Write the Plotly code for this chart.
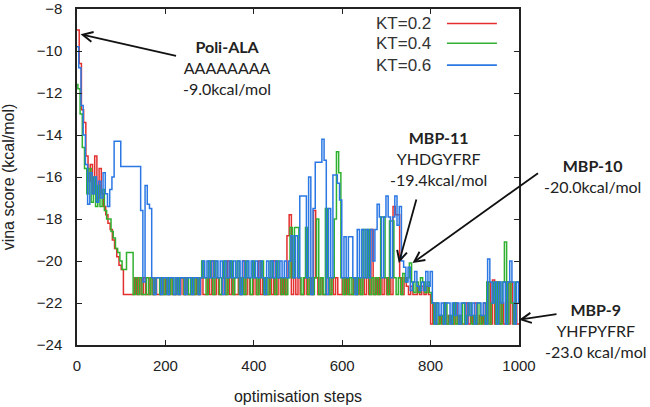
import plotly.graph_objects as go

# optimisation steps at which each run was sampled
steps_kt02 = list(range(0, 1001, 5))
steps_kt04 = [0] + list(range(2, 1000, 5)) + [1000]
steps_kt06 = [0] + list(range(4, 1000, 5)) + [1000]

# vina score (kcal/mol), KT=0.2
kt02 = [
    -9.0, -10.6, -12.8, -13.4, -15.0, -16.2, -15.4, -16.8, -15.0, -17.0,
    -15.6, -16.8, -17.4, -17.8, -18.2, -18.5, -19.0, -19.4, -19.8, -20.2,
    -20.4, -21.6, -21.6, -21.6, -21.6, -21.6, -20.8, -21.6, -20.8, -21.6,
    -20.8, -21.6, -21.6, -20.8, -21.6, -20.8, -21.6, -21.6, -20.8, -21.6,
    -20.8, -21.6, -20.8, -21.6, -21.6, -20.8, -21.6, -20.8, -21.6, -20.8,
    -21.6, -21.6, -20.8, -21.6, -20.8, -21.6, -20.8, -21.6, -21.6, -20.8,
    -21.6, -20.0, -21.6, -20.8, -21.6, -21.6, -20.8, -21.6, -20.0, -21.6,
    -20.8, -21.6, -21.6, -20.8, -21.6, -20.0, -21.6, -20.8, -21.6, -21.6,
    -20.8, -21.6, -20.0, -21.6, -20.8, -21.6, -21.6, -20.8, -21.6, -20.0,
    -21.6, -20.8, -21.6, -20.8, -21.6, -18.8, -17.8, -21.6, -20.8, -21.6,
    -20.8, -21.6, -21.6, -20.8, -21.6, -20.8, -21.6, -17.6, -20.8, -21.6,
    -20.8, -21.6, -21.6, -20.8, -21.6, -20.8, -21.6, -20.8, -21.6, -21.6,
    -20.8, -21.6, -20.8, -21.6, -21.6, -20.8, -21.6, -20.8, -21.6, -20.8,
    -21.6, -20.8, -21.6, -18.5, -21.6, -20.8, -21.6, -20.8, -21.6, -20.8,
    -21.6, -20.8, -21.6, -17.4, -17.8, -17.8, -20.8, -21.6, -20.8, -21.2,
    -21.6, -21.2, -21.6, -21.6, -21.2, -21.6, -21.2, -21.6, -21.2, -21.6,
    -23.0, -22.0, -23.0, -23.0, -22.6, -23.0, -22.0, -23.0, -22.6, -23.0,
    -23.0, -22.0, -23.0, -22.6, -23.0, -23.0, -22.0, -23.0, -22.6, -23.0,
    -22.0, -23.0, -22.6, -23.0, -22.0, -23.0, -21.0, -23.0, -20.9, -23.0,
    -21.0, -23.0, -22.0, -23.0, -21.0, -23.0, -21.0, -23.0, -22.0, -23.0,
    -23.0,
]

# vina score (kcal/mol), KT=0.4
kt04 = [
    -11.6,
    -11.8, -13.0, -14.6, -15.6, -16.8, -15.6, -17.2, -16.0, -17.4, -16.4,
    -17.4, -16.6, -17.6, -18.0, -18.0, -18.6, -18.9, -19.4, -19.6, -20.0,
    -20.4, -20.4, -19.6, -19.6, -19.6, -21.6, -20.8, -21.6, -20.8, -21.6,
    -21.6, -20.8, -21.6, -20.8, -21.6, -20.8, -20.8, -21.6, -20.8, -21.6,
    -20.8, -21.6, -20.8, -21.6, -20.8, -21.6, -20.8, -20.8, -21.6, -20.8,
    -21.6, -20.8, -21.6, -20.8, -21.6, -20.8, -20.0, -20.8, -21.6, -20.0,
    -20.8, -21.6, -20.0, -20.8, -21.6, -20.8, -20.0, -21.6, -20.8, -20.0,
    -21.6, -20.8, -20.0, -21.6, -20.8, -21.6, -20.0, -20.8, -21.6, -20.0,
    -20.8, -21.6, -20.8, -20.0, -21.6, -20.8, -21.6, -20.0, -20.8, -21.6,
    -20.0, -20.8, -21.6, -20.8, -21.6, -20.8, -18.4, -20.8, -18.4, -18.4,
    -20.8, -21.6, -20.8, -18.4, -21.6, -20.8, -21.6, -20.8, -18.0, -21.6,
    -20.8, -21.6, -17.5, -20.8, -21.6, -20.8, -18.0, -14.8, -15.8, -20.8,
    -21.6, -20.8, -21.6, -20.8, -21.6, -20.8, -21.6, -20.8, -21.6, -18.5,
    -20.8, -18.5, -21.6, -20.8, -21.6, -20.8, -21.6, -17.9, -17.9, -20.8,
    -21.6, -18.1, -18.1, -20.8, -21.6, -20.8, -21.6, -20.6, -21.0, -20.8,
    -20.1, -21.0, -21.5, -21.0, -21.5, -20.8, -21.0, -21.5, -21.0, -21.5,
    -22.0, -23.0, -22.0, -23.0, -22.6, -23.0, -22.0, -23.0, -22.6, -23.0,
    -22.0, -23.0, -22.6, -23.0, -22.0, -23.0, -22.6, -22.0, -23.0, -22.6,
    -23.0, -22.0, -23.0, -22.6, -23.0, -21.0, -23.0, -22.0, -21.0, -23.0,
    -21.0, -23.0, -21.0, -19.1, -23.0, -21.0, -22.0, -23.0, -21.0, -21.0,
    -21.0,
]

# vina score (kcal/mol), KT=0.6
kt06 = [
    -9.8,
    -10.8, -12.6, -14.0, -15.4, -17.3, -15.8, -16.8, -16.0, -17.2, -16.2,
    -17.0, -15.8, -16.8, -17.4, -16.6, -16.0, -14.3, -14.3, -14.3, -15.5,
    -15.5, -15.5, -15.5, -15.5, -15.5, -15.5, -15.5, -15.5, -17.6, -21.0,
    -16.4, -17.3, -17.5, -20.8, -21.6, -20.8, -20.8, -21.6, -20.8, -20.8,
    -21.6, -20.8, -20.8, -21.6, -20.8, -21.6, -20.8, -20.8, -21.6, -20.8,
    -20.8, -21.6, -20.8, -20.8, -21.6, -20.8, -20.0, -20.8, -20.0, -20.8,
    -20.0, -20.8, -20.0, -20.8, -20.0, -21.6, -20.0, -20.8, -20.0, -20.8,
    -20.0, -20.8, -20.0, -21.6, -20.0, -20.8, -20.0, -20.8, -20.0, -20.8,
    -20.0, -20.8, -20.0, -20.8, -21.6, -20.0, -20.8, -20.0, -20.8, -20.0,
    -20.8, -20.0, -20.8, -20.0, -20.8, -20.0, -18.8, -20.8, -18.8, -20.8,
    -16.9, -16.9, -16.9, -20.8, -16.0, -21.6, -17.5, -15.3, -15.3, -15.3,
    -14.2, -15.2, -21.6, -17.5, -20.8, -15.9, -15.9, -16.3, -17.1, -20.8,
    -18.85, -20.8, -18.85, -18.85, -20.8, -21.6, -18.5, -20.8, -18.5, -20.8,
    -18.5, -20.8, -18.5, -20.0, -18.5, -17.3, -17.9, -20.8, -17.9, -16.9,
    -17.9, -20.8, -17.9, -16.9, -18.3, -17.4, -20.0, -20.3, -21.0, -20.3,
    -21.4, -21.0, -20.5, -21.2, -21.4, -21.0, -21.4, -20.5, -21.2, -20.5,
    -22.0, -23.0, -22.0, -22.6, -22.0, -23.0, -22.0, -22.0, -23.0, -22.0,
    -22.6, -22.0, -23.0, -22.0, -22.0, -23.0, -22.0, -22.6, -22.0, -23.0,
    -22.0, -22.0, -22.6, -22.0, -23.0, -19.9, -21.0, -22.0, -21.0, -23.0,
    -21.0, -22.0, -21.0, -23.0, -21.0, -20.0, -21.0, -23.0, -21.0, -22.0,
    -21.0,
]

series_names = ["KT=0.2", "KT=0.4", "KT=0.6"]
series_colors = ["#e3302f", "#2fb12f", "#2b78e4"]
x_ticks = [0, 200, 400, 600, 800, 1000]
y_ticks = [-8, -10, -12, -14, -16, -18, -20, -22, -24]

fig = go.Figure()
for name, xs, vals, col in zip(series_names, [steps_kt02, steps_kt04, steps_kt06],
                               [kt02, kt04, kt06], series_colors):
    fig.add_trace(go.Scatter(
        x=xs, y=vals, name=name, mode="lines",
        line=dict(color=col, width=1.5, shape="hv"),
        showlegend=False, hoverinfo="skip",
    ))

sans = "Liberation Sans, Arial, sans-serif"
tickfont = dict(family=sans, size=15, color="#222")
fig.update_layout(
    width=650, height=407,
    margin=dict(l=77, r=131, t=9, b=62),
    paper_bgcolor="white", plot_bgcolor="white",
    xaxis=dict(
        range=[0, 1000], tickvals=x_ticks, ticks="inside", ticklen=5,
        tickwidth=1.2, tickcolor="#222", showline=True, linecolor="#222",
        linewidth=1.5, mirror="ticks", showgrid=False, zeroline=False,
        automargin=False, tickfont=tickfont, ticklabelstandoff=6,
        title=dict(text="optimisation steps", standoff=18,
                   font=dict(family=sans, size=16, color="#222")),
    ),
    yaxis=dict(
        range=[-24, -8], tickvals=y_ticks, ticks="inside", ticklen=5,
        tickwidth=1.2, tickcolor="#222", showline=True, linecolor="#222",
        linewidth=1.5, mirror="ticks", showgrid=False, zeroline=False,
        automargin=False, tickfont=tickfont, ticklabelstandoff=10,
        title=dict(text="vina score (kcal/mol)", standoff=18,
                   font=dict(family=sans, size=16, color="#222")),
    ),
)

# legend (text on the left, line sample on the right)
leg_y = [0.957, 0.898, 0.833]
for name, col, yy in zip(series_names, series_colors, leg_y):
    fig.add_annotation(xref="paper", yref="paper", x=0.805, y=yy, text=name,
                       showarrow=False, xanchor="right", yanchor="middle",
                       font=dict(family=sans, size=17, color="#333"))
    fig.add_shape(type="line", xref="paper", yref="paper", x0=0.837, x1=0.950,
                  y0=yy, y1=yy, line=dict(color=col, width=1.6))

afont = dict(family="Lato, Open Sans, sans-serif", size=16, color="#222")
# text blocks
blocks = [
    ("<b>Poli-ALA</b><br>AAAAAAAA<br>-9.0kcal/mol", 0.339, 0.827),
    ("<b>MBP-11</b><br>YHDGYFRF<br>-19.4kcal/mol", 0.817, 0.555),
    ("<b>MBP-10</b><br>-20.0kcal/mol", 1.167, 0.503),
    ("<b>MBP-9</b><br>YHFPYFRF<br>-23.0 kcal/mol", 1.175, 0.042),
]
for txt, xx, yy in blocks:
    fig.add_annotation(xref="paper", yref="paper", x=xx, y=yy, text=txt,
                       showarrow=False, xanchor="center", yanchor="middle",
                       align="center", font=afont)

# arrows pointing to the sequences on the curves
arrows = [
    (8, -9.2, 97, 22),
    (728, -20.1, 18, -65),
    (759, -20.1, 127, -91),
    (1000, -22.8, 39, -6),
]
for xx, yy, ax, ay in arrows:
    fig.add_annotation(x=xx, y=yy, xref="x", yref="y", text="", showarrow=True,
                       ax=ax, ay=ay, axref="pixel", ayref="pixel",
                       arrowhead=5, arrowsize=1.1, arrowwidth=1.8, arrowcolor="#111")

# remove the browser's default page margin so the figure sits at the window origin
fig.write_html("out.html", config={"displayModeBar": False},
               post_script="document.body.style.margin='0';")
